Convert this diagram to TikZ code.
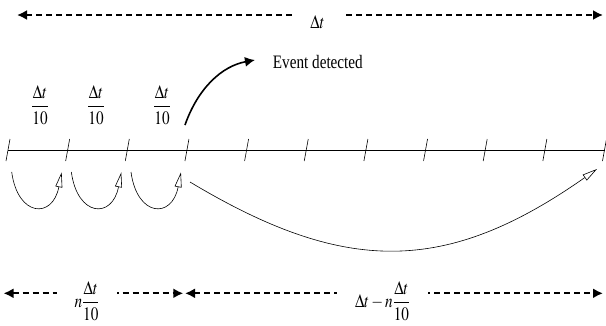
\documentclass[tikz,border=0pt]{standalone}
\usepackage{amsmath}
\usepackage{mathptmx}
\usepackage{fontspec}
\setmainfont{Liberation Serif}
\usepackage{graphicx}
\usetikzlibrary{arrows.meta}
\tikzset{
  lbl/.style={font=\fontsize{19}{23}\selectfont, inner sep=0pt},
  gapbox/.style={lbl, fill=white, inner xsep=18pt, inner ysep=4pt},
  dimline/.style={line width=1.9pt, dash pattern=on 6pt off 4pt,
    {Latex[length=10pt,width=10pt]}-{Latex[length=10pt,width=10pt]}},
  axisline/.style={line width=0.8pt},
  tickmark/.style={line width=0.6pt},
  hop/.style={line width=0.6pt, -{Triangle[open,length=15pt,width=7pt]}},
  evarrow/.style={line width=1.6pt, -{Latex[length=10pt,width=10pt]}}
}
\newcommand{\cond}[1]{\scalebox{0.8}[1]{#1}}
\newcommand{\dfr}[2]{{\displaystyle\frac{#1}{#2}}}
\begin{document}
\begin{tikzpicture}[x=1pt,y=-1pt]
\useasboundingbox (0,0) rectangle (606,325);

% top dimension line
\coordinate (a1) at (17,15);
\coordinate (a2) at (603,15);
\draw[dimline] (a1) -- (a2);
\node[gapbox, anchor=base] (dt) at (317.5,28.3) {\cond{$\Delta t$}};

% time axis with ticks
\foreach \i in {0,...,10} {
  \coordinate (t\i) at ({8+59.65*\i},150);
}
\draw[axisline] (t0) -- (t10);
\foreach \i in {0,...,10} {
  \draw[tickmark] ([shift={(2,-11)}]t\i) -- ([shift={(-2,11)}]t\i);
}

% fraction labels above first intervals
\node[lbl] (f1) at (40,105) {\cond{$\dfr{\Delta t}{10}$}};
\node[lbl] (f2) at (96,105) {\cond{$\dfr{\Delta t}{10}$}};
\node[lbl] (f3) at (162,105) {\cond{$\dfr{\Delta t}{10}$}};

% event detected
\coordinate (evs) at (185,125);
\coordinate (eve) at (255,60);
\draw[evarrow] (evs) .. controls (198,88) and (222,66) .. (eve);
\node[lbl, anchor=base west] (ev) at (272.7,68.3) {\cond{Event detected}};

% small hops
\foreach \i/\j in {0/1,1/2,2/3} {
  \coordinate (s\i) at ({8+59.65*\i+3.7},172);
  \coordinate (e\i) at ({8+59.65*\j-6},172.3);
  \draw[hop] (s\i) .. controls +(6,45) and +(-9,47) .. (e\i);
}

% big jump
\coordinate (sb) at (190,182);
\coordinate (eb) at (597,169);
\draw[hop] (sb) .. controls +(155,93) and +(-151,106) .. (eb);

% bottom dimension lines
\coordinate (b0) at (3.5,293.3);
\coordinate (b1) at (183.3,293.3);
\coordinate (b1r) at (185,293.3);
\coordinate (b2) at (603,293.3);
\draw[dimline] (b0) -- (b1);
\draw[dimline] (b1r) -- (b2);
\node[gapbox] (nl) at (87,301) {\cond{$n\dfr{\Delta t}{10}$}};
\node[gapbox] (nr) at (382.5,301) {\cond{$\Delta t-n\dfr{\Delta t}{10}$}};
\end{tikzpicture}
\end{document}
